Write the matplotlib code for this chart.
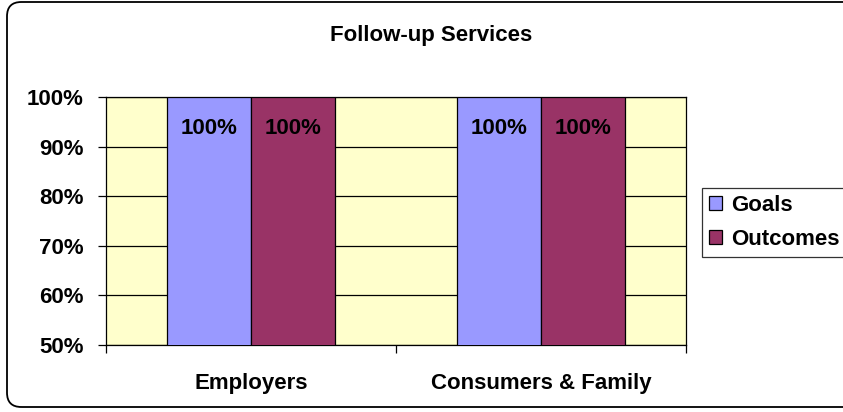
import matplotlib.pyplot as plt
import numpy as np
from matplotlib.patches import FancyBboxPatch

categories = ["Employers", "Consumers & Family"]
goals = [100, 100]
outcomes = [100, 100]
series_names = ["Goals", "Outcomes"]
yticks = [50, 60, 70, 80, 90, 100]

plt.rcParams["font.family"] = ["Liberation Sans", "DejaVu Sans"]
plt.rcParams["font.weight"] = "bold"
FS = 16

W, H = 843, 412
fig = plt.figure(figsize=(W / 100, H / 100), dpi=100)

# rounded chart-area border (right side runs off the image)
border = FancyBboxPatch((7 / W, 5 / H), 860 / W, 405 / H,
                        boxstyle="round,pad=0,rounding_size=0.017",
                        transform=fig.transFigure, fill=False,
                        edgecolor="black", linewidth=1.3, mutation_aspect=W / H)
fig.patches.append(border)

ax = fig.add_axes([106 / W, 1 - 345 / H, 580 / W, 248 / H])
ax.set_facecolor("#FFFFCC")

x = np.arange(len(categories))
bw = 0.29
b1 = ax.bar(x - bw / 2, goals, bw, color="#9999FF", edgecolor="black",
            linewidth=0.9, label=series_names[0], zorder=3)
b2 = ax.bar(x + bw / 2, outcomes, bw, color="#993366", edgecolor="black",
            linewidth=0.9, label=series_names[1], zorder=3)

for bars, vals in ((b1, goals), (b2, outcomes)):
    for rect, v in zip(bars, vals):
        ax.annotate(f"{v}%", (rect.get_x() + rect.get_width() / 2, v),
                    xytext=(0, -22.5), textcoords="offset points",
                    ha="center", va="center", fontsize=FS, fontweight="bold",
                    zorder=4)

ax.set_ylim(50, 100)
ax.set_xlim(-0.5, len(categories) - 0.5)
ax.set_yticks(yticks)
ax.set_yticklabels([f"{t}%" for t in yticks], fontsize=FS, fontweight="bold")
ax.yaxis.grid(True, color="black", linewidth=0.9, zorder=1)
ax.set_axisbelow(True)
ax.tick_params(axis="y", length=6, width=0.9, pad=10)

ax.set_xticks(x)
ax.set_xticklabels(categories, fontsize=FS, fontweight="bold")
ax.set_xticks(np.arange(len(categories) + 1) - 0.5, minor=True)
ax.tick_params(axis="x", which="major", length=0, pad=20)
ax.tick_params(axis="x", which="minor", length=6, width=0.9)

for s in ax.spines.values():
    s.set_color("black")
    s.set_linewidth(0.9)

fig.text(431 / W, 1 - 35 / H, "Follow-up Services", ha="center", va="center",
         fontsize=FS, fontweight="bold")

leg = fig.legend(loc="upper left", bbox_to_anchor=(702 / W, 1 - 188 / H),
                 bbox_transform=fig.transFigure, fontsize=FS, frameon=True,
                 fancybox=False, edgecolor="black", handlelength=0.6,
                 handleheight=0.6, handletextpad=0.4, borderpad=0.3,
                 labelspacing=0.6, borderaxespad=0)
leg.get_frame().set_linewidth(0.9)
for t in leg.get_texts():
    t.set_fontweight("bold")

fig.savefig("out.png", dpi=100)
